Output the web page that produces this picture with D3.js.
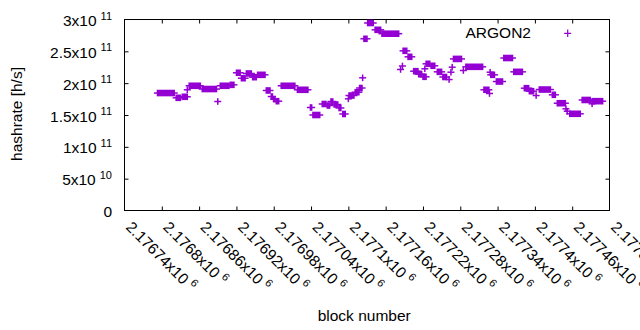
<!DOCTYPE html>
<html>
<head>
<meta charset="utf-8">
<script src="https://cdn.jsdelivr.net/npm/d3@7"></script>
<style>
  html, body { margin: 0; padding: 0; background: #fff; }
  svg { display: block; }
  text { font-family: "Liberation Sans", Arial, sans-serif; fill: #000; }
</style>
</head>
<body>
<svg id="chart" width="640" height="330"></svg>
<script>
// ---- data: runs of consecutive blocks sharing one hashrate estimate ----
const runStart = [2176793,2176823,2176833,2176841,2176844,2176865,2176890,2176894,2176910,2176920,
  2176928,2176936,2176946,2176954,2176968,2176976,2176980,2176984,2176992,2177018,
  2177039,2177043,2177058,2177066,2177072,2177077,2177085,2177091,2177100,2177101,
  2177111,2177118,2177123,2177125,2177131,2177143,2177154,2177184,2177187,2177188,
  2177196,2177205,2177213,2177220,2177223,2177225,2177233,2177243,2177252,2177262,
  2177265,2177267,2177269,2177285,2177289,2177318,2177327,2177328,2177329,2177338,
  2177350,2177366,2177383,2177391,2177402,2177407,2177428,2177436,2177450,2177452,
  2177456,2177476,2177492,2177492];
const runEnd = [2176820,2176830,2176841,2176841,2176862,2176888,2176890,2176908,2176916,2176926,
  2176934,2176944,2176952,2176966,2176974,2176978,2176982,2176988,2177014,2177035,
  2177041,2177054,2177064,2177070,2177075,2177083,2177088,2177095,2177100,2177109,
  2177117,2177122,2177123,2177130,2177140,2177152,2177181,2177184,2177187,2177194,
  2177202,2177212,2177218,2177225,2177223,2177231,2177239,2177250,2177258,2177262,
  2177265,2177267,2177282,2177285,2177316,2177326,2177327,2177328,2177335,2177348,
  2177364,2177380,2177390,2177398,2177402,2177425,2177433,2177449,2177450,2177452,
  2177473,2177489,2177509,2177492];
const runHashrate = [1.845e11,1.770e11,1.786e11,1.896e11,1.959e11,1.908e11,1.712e11,1.959e11,1.974e11,2.163e11,
  2.078e11,2.152e11,2.094e11,2.131e11,1.885e11,1.790e11,1.748e11,1.717e11,1.959e11,1.896e11,
  1.618e11,1.500e11,1.673e11,1.649e11,1.712e11,1.665e11,1.610e11,1.516e11,1.754e11,1.806e11,
  1.858e11,1.924e11,2.084e11,2.697e11,2.945e11,2.838e11,2.777e11,2.215e11,2.270e11,2.508e11,
  2.414e11,2.188e11,2.141e11,2.100e11,2.226e11,2.304e11,2.273e11,2.178e11,2.097e11,2.057e11,
  2.172e11,2.251e11,2.381e11,2.199e11,2.257e11,1.896e11,1.838e11,2.172e11,2.131e11,2.026e11,
  2.395e11,2.178e11,1.921e11,1.874e11,1.806e11,1.900e11,1.817e11,1.685e11,1.597e11,1.560e11,
  1.519e11,1.736e11,1.717e11,1.676e11];

const seriesName = "ARGON2";

const xTickValues = [2176740,2176800,2176860,2176920,2176980,2177040,2177100,2177160,
  2177220,2177280,2177340,2177400,2177460,2177520];
const xTickMantissa = ["2.17674","2.1768","2.17686","2.17692","2.17698","2.17704","2.1771",
  "2.17716","2.17722","2.17728","2.17734","2.1774","2.17746","2.17752"];
const xTickExponent = "6";

const yTickValues = [0, 5e10, 1e11, 1.5e11, 2e11, 2.5e11, 3e11];
const yTickMantissa = ["0","5","1","1.5","2","2.5","3"];
const yTickExponent = [null,"10","11","11","11","11","11"];

const xTitle = "block number";
const yTitle = "hashrate [h/s]";

// ---- layout ----
const L = 124.5, R = 609.5, T = 19.5, B = 210.5;
const color = "#9400d3";
const armH = 3.5, armV = 3.3, sw = 1.5;

const svg = d3.select("#chart");
const x = d3.scaleLinear().domain([2176740, 2177520]).range([L, R]);
const y = d3.scaleLinear().domain([0, 3e11]).range([B, T]);

const FS = 15.5, SUP = 11;

// axes (ticks pointing inward, mirrored on all four sides)
const gB = svg.append("g").attr("transform", `translate(0,${B})`)
  .call(d3.axisBottom(x).tickValues(xTickValues).tickSize(-4).tickFormat(() => ""));
const gT = svg.append("g").attr("transform", `translate(0,${T})`)
  .call(d3.axisTop(x).tickValues(xTickValues.slice(0, -1)).tickSize(-4).tickFormat(() => ""));
const gL = svg.append("g").attr("transform", `translate(${L},0)`)
  .call(d3.axisLeft(y).tickValues(yTickValues).tickSize(-4).tickFormat(() => ""));
const gR = svg.append("g").attr("transform", `translate(${R},0)`)
  .call(d3.axisRight(y).tickValues(yTickValues).tickSize(-4).tickFormat(() => ""));
[gB, gT, gL, gR].forEach(g => {
  g.select(".domain").remove();
  g.selectAll(".tick line").attr("stroke", "#000").attr("stroke-width", 1);
});
gL.selectAll(".tick").filter(d => d === 0 || d === 3e11).select("line").remove();
gR.selectAll(".tick").filter(d => d === 0 || d === 3e11).select("line").remove();
gB.selectAll(".tick").filter(d => d === 2177520 || d === 2176740).select("line").remove();
gT.selectAll(".tick").filter(d => d === 2176740).select("line").remove();

// y tick labels
gL.selectAll(".tick text").each(function(d, i) {
  const t = d3.select(this);
  t.text(null).attr("x", -12.5).attr("dy", null).attr("y", 6)
    .attr("text-anchor", "end").attr("font-size", FS).attr("fill", "#000")
    .attr("font-family", "Liberation Sans, Arial, sans-serif");
  t.append("tspan").text(yTickMantissa[i] + (yTickExponent[i] ? "x10" : ""));
  if (yTickExponent[i]) {
    t.append("tspan").attr("dx", 4).attr("dy", -6.5).attr("font-size", SUP).text(yTickExponent[i]);
  }
});

// x tick labels (rotated)
gB.selectAll(".tick text").each(function(d, i) {
  const t = d3.select(this);
  t.text(null).attr("x", 0).attr("y", 0).attr("dy", null)
    .attr("transform", "translate(0,17.5) rotate(45)")
    .attr("text-anchor", "start").attr("font-size", FS).attr("fill", "#000")
    .attr("font-family", "Liberation Sans, Arial, sans-serif");
  t.append("tspan").text(xTickMantissa[i] + "x10");
  t.append("tspan").attr("dx", 4).attr("dy", -6.5).attr("font-size", SUP).text(xTickExponent);
});

// border
svg.append("rect").attr("x", L).attr("y", T).attr("width", R - L).attr("height", B - T)
  .attr("fill", "none").attr("stroke", "#000").attr("stroke-width", 1);

// data: each run of blocks drawn as its stack of '+' marks
const runs = runStart.map((s, i) => ({ s, e: runEnd[i], v: runHashrate[i] }));
const gData = svg.append("g");
gData.selectAll("rect.run").data(runs).join("rect").attr("class", "run")
  .attr("x", d => x(d.s) - sw / 2)
  .attr("width", d => x(d.e) - x(d.s) + sw)
  .attr("y", d => y(d.v) - armV)
  .attr("height", 2 * armV)
  .attr("fill", color);
gData.selectAll("line.arm").data(runs).join("line").attr("class", "arm")
  .attr("x1", d => x(d.s) - armH).attr("x2", d => x(d.e) + armH)
  .attr("y1", d => y(d.v)).attr("y2", d => y(d.v))
  .attr("stroke", color).attr("stroke-width", sw);

// legend
svg.append("text").attr("x", 531).attr("y", 38.3).attr("text-anchor", "end")
  .attr("font-size", FS).text(seriesName);
const lx = 567.7, ly = 33.3;
svg.append("path")
  .attr("d", `M${lx - armH},${ly}H${lx + armH}M${lx},${ly - armV - 0.5}V${ly + armV + 0.5}`)
  .attr("stroke", color).attr("stroke-width", 1.2).attr("fill", "none");

// axis titles
svg.append("text").attr("x", 364.2).attr("y", 320.5).attr("text-anchor", "middle")
  .attr("font-size", FS).text(xTitle);
svg.append("text").attr("transform", "translate(21.5,114) rotate(-90)")
  .attr("text-anchor", "middle").attr("font-size", FS).text(yTitle);
</script>
</body>
</html>
